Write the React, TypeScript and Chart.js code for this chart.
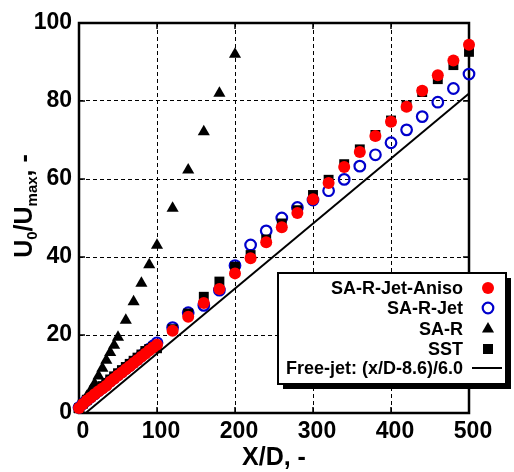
import React, { useEffect, useRef } from 'react';
import { Chart, registerables } from 'chart.js';

Chart.register(...registerables);

// ---- data ----
const jetX = [0, 5, 10, 15, 20, 25, 30, 35, 40, 45, 50, 55, 60, 65, 70, 75, 80, 85, 90, 95, 100,
  120, 140, 160, 180, 200, 220, 240, 260, 280, 300, 320, 340, 360, 380, 400, 420, 440, 460, 480, 500];

const anisoY = [1.3, 2.3, 3.2, 4.0, 4.8, 5.6, 6.3, 7.0, 8.0, 8.8, 9.6, 10.4, 11.2, 12.0, 12.8, 13.6, 14.4, 15.2, 16.0, 16.8, 17.5,
  21.1, 24.7, 28.2, 31.8, 35.8, 39.7, 43.8, 47.6, 51.3, 54.8, 59.0, 63.1, 66.9, 71.0, 74.7, 78.5, 82.6, 86.6, 90.4, 94.4];

const jetY = [1.4, 2.4, 3.3, 4.1, 4.9, 5.7, 6.5, 7.3, 8.2, 9.0, 9.8, 10.6, 11.4, 12.2, 13.0, 13.8, 14.7, 15.5, 16.4, 17.2, 18.0,
  21.9, 25.7, 27.6, 31.5, 37.8, 43.1, 46.7, 50.0, 52.7, 54.6, 57.0, 59.9, 63.3, 66.2, 69.3, 72.6, 76.0, 79.7, 83.2, 86.9];

const sstY = [1.2, 2.4, 3.4, 4.3, 5.2, 6.0, 6.9, 7.7, 8.6, 9.4, 10.2, 11.0, 11.8, 12.6, 13.4, 14.2, 15.0, 15.9, 16.4, 16.9, 16.6,
  21.5, 25.5, 29.8, 33.7, 37.5, 40.5, 44.5, 48.6, 52.0, 55.9, 59.8, 63.8, 67.6, 71.3, 75.0, 78.8, 82.3, 85.6, 89.2, 92.6];

const saRX = [0, 5, 10, 15, 20, 25, 30, 35, 40, 45, 50, 60, 70, 80, 90, 100, 120, 140, 160, 180, 200];
const saRY = [1.0, 2.6, 4.2, 5.8, 7.5, 9.5, 11.5, 13.5, 15.5, 17.4, 19.4, 23.8, 28.5, 33.3, 38.0, 43.0, 52.5, 62.3, 72.1, 82.0, 92.0];

const freeJetX = [8.6, 500];
const freeJetY = [0, 81.9];

const xTicks = [0, 100, 200, 300, 400, 500];
const yTicks = [0, 20, 40, 60, 80, 100];

const legendLabels = ['SA-R-Jet-Aniso', 'SA-R-Jet', 'SA-R', 'SST', 'Free-jet: (x/D-8.6)/6.0'];

const FONT = "'Liberation Sans', Arial, Helvetica, sans-serif";
const RED = '#ff0000';
const BLUE = '#0000cc';

const pts = (xs: number[], ys: number[]) => xs.map((x, i) => ({ x, y: ys[i] }));

const decorPlugin = {
  id: 'decor',
  beforeDatasetsDraw(chart: any) {
    const { ctx, chartArea: a, scales } = chart;
    ctx.save();
    ctx.strokeStyle = '#000';
    ctx.setLineDash([]);
    ctx.lineWidth = 1.5;
    const tl = 6;
    xTicks.forEach((v) => {
      const px = scales.x.getPixelForValue(v);
      ctx.beginPath();
      ctx.moveTo(px, a.bottom); ctx.lineTo(px, a.bottom - tl);
      ctx.moveTo(px, a.top); ctx.lineTo(px, a.top + tl);
      ctx.stroke();
    });
    yTicks.forEach((v) => {
      const py = scales.y.getPixelForValue(v);
      ctx.beginPath();
      ctx.moveTo(a.left, py); ctx.lineTo(a.left + tl, py);
      ctx.moveTo(a.right, py); ctx.lineTo(a.right - tl, py);
      ctx.stroke();
    });
    ctx.lineWidth = 2.5;
    ctx.strokeRect(a.left, a.top, a.right - a.left, a.bottom - a.top);
    ctx.restore();
  },
  afterDraw(chart: any) {
    const { ctx, chartArea: a } = chart;
    ctx.save();
    ctx.fillStyle = '#000';
    // x title
    ctx.font = `bold 25px ${FONT}`;
    ctx.textAlign = 'center';
    ctx.textBaseline = 'alphabetic';
    ctx.fillText('X/D, -', (a.left + a.right) / 2, 465);

    // y title with subscripts, centred on y = 206
    const big = `bold 25px ${FONT}`;
    const small = `bold 15px ${FONT}`;
    const parts: [string, boolean][] = [['U', false], ['0', true], ['/U', false], ['max', true], [', -', false]];
    let total = 0;
    parts.forEach(([t, sub]) => { ctx.font = sub ? small : big; total += ctx.measureText(t).width; });
    ctx.save();
    ctx.translate(32, 206 + total / 2);
    ctx.rotate(-Math.PI / 2);
    ctx.textAlign = 'left';
    let cx = 0;
    parts.forEach(([t, sub]) => {
      ctx.font = sub ? small : big;
      ctx.fillText(t, cx, sub ? 5 : 0);
      cx += ctx.measureText(t).width;
    });
    ctx.restore();

    // legend box
    const bx = 278, by = 273, bw = 228, bh = 111;
    ctx.fillStyle = '#000';
    ctx.fillRect(bx + 5, by + 5, bw, bh);
    ctx.fillStyle = '#fff';
    ctx.fillRect(bx, by, bw, bh);
    ctx.lineWidth = 2;
    ctx.strokeStyle = '#000';
    ctx.strokeRect(bx, by, bw, bh);

    const rows = [288, 308, 329, 349, 368];
    ctx.font = `bold 18px ${FONT}`;
    ctx.textAlign = 'right';
    ctx.textBaseline = 'middle';
    ctx.fillStyle = '#000';
    legendLabels.forEach((t, i) => ctx.fillText(t, 463, rows[i] + 1));

    const mx = 488;
    ctx.fillStyle = RED;
    ctx.beginPath(); ctx.arc(mx, rows[0], 6, 0, Math.PI * 2); ctx.fill();
    ctx.strokeStyle = BLUE; ctx.lineWidth = 2.2;
    ctx.beginPath(); ctx.arc(mx, rows[1], 5.3, 0, Math.PI * 2); ctx.stroke();
    ctx.fillStyle = '#000';
    const r = 7;
    ctx.beginPath();
    ctx.moveTo(mx, rows[2] - r);
    ctx.lineTo(mx + r * Math.sin(2 * Math.PI / 3), rows[2] + r / 2);
    ctx.lineTo(mx - r * Math.sin(2 * Math.PI / 3), rows[2] + r / 2);
    ctx.closePath(); ctx.fill();
    ctx.fillRect(mx - 5, rows[3] - 5, 10, 10);
    ctx.strokeStyle = '#000'; ctx.lineWidth = 2;
    ctx.beginPath(); ctx.moveTo(472, rows[4]); ctx.lineTo(502, rows[4]); ctx.stroke();
    ctx.restore();
  },
};

export default function App() {
  const ref = useRef<HTMLCanvasElement | null>(null);
  useEffect(() => {
    if (!ref.current) return;
    const chart = new Chart(ref.current, {
      type: 'scatter',
      data: {
        datasets: [
          {
            label: legendLabels[0], data: pts(jetX, anisoY), order: 0,
            pointStyle: 'circle', pointRadius: 6, pointBackgroundColor: RED, pointBorderColor: RED, pointBorderWidth: 0,
            showLine: false,
          },
          {
            label: legendLabels[2], data: pts(saRX, saRY), order: 1,
            pointStyle: 'triangle', pointRadius: 7, pointBackgroundColor: '#000', pointBorderColor: '#000', pointBorderWidth: 0,
            showLine: false,
          },
          {
            label: legendLabels[3], data: pts(jetX, sstY), order: 2,
            pointStyle: 'rect', pointRadius: 7, pointBackgroundColor: '#000', pointBorderColor: '#000', pointBorderWidth: 0,
            showLine: false,
          },
          {
            label: legendLabels[1], data: pts(jetX, jetY), order: 3,
            pointStyle: 'circle', pointRadius: 5.3, pointBackgroundColor: 'rgba(0,0,0,0)', pointBorderColor: BLUE, pointBorderWidth: 2.2,
            showLine: false,
          },
          {
            label: legendLabels[4], data: pts(freeJetX, freeJetY), order: 4,
            showLine: true, borderColor: '#000', borderWidth: 2, pointRadius: 0,
          },
        ],
      },
      options: {
        animation: false,
        responsive: false,
        devicePixelRatio: 1,
        clip: false as any,
        layout: { padding: { top: 23, right: 45, left: 0, bottom: 0 } },
        plugins: { legend: { display: false }, tooltip: { enabled: false }, title: { display: false } },
        scales: {
          x: {
            type: 'linear', min: 0, max: 500,
            afterFit: (s: any) => { s.height = 59; },
            afterBuildTicks: (s: any) => { s.ticks = xTicks.map((v) => ({ value: v })); },
            ticks: { color: '#000', font: { family: FONT, size: 23, weight: 'bold' }, padding: 5, labelOffset: 4, maxRotation: 0 },
            grid: { color: '#000', lineWidth: 1, drawTicks: false },
            border: { display: false, dash: [4, 3] },
          },
          y: {
            type: 'linear', min: 0, max: 100,
            afterFit: (s: any) => { s.width = 79; },
            afterBuildTicks: (s: any) => { s.ticks = yTicks.map((v) => ({ value: v })); },
            ticks: { color: '#000', font: { family: FONT, size: 23, weight: 'bold' }, padding: 7 },
            grid: { color: '#000', lineWidth: 1, drawTicks: false },
            border: { display: false, dash: [4, 3] },
          },
        },
      } as any,
      plugins: [decorPlugin],
    });
    return () => chart.destroy();
  }, []);
  return (
    <div style={{ position: 'absolute', left: 0, top: 0, width: 514, height: 472, background: '#fff' }}>
      <canvas ref={ref} width={514} height={472} style={{ width: 514, height: 472, display: 'block' }} />
    </div>
  );
}
